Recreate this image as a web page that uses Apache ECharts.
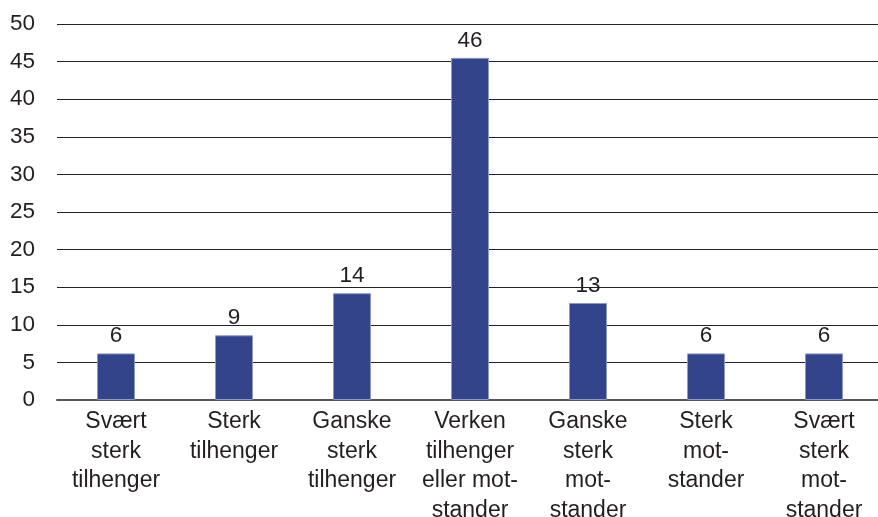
<!DOCTYPE html>
<html>
<head>
<meta charset="utf-8">
<script src="https://cdn.jsdelivr.net/npm/echarts@6/dist/echarts.min.js"></script>
<style>
  html, body { margin: 0; padding: 0; background: #fff; }
  #chart { width: 878px; height: 517px; }
</style>
</head>
<body>
<div id="chart"></div>
<script>
// kategorier og verdier (prosent)
const categories = [
  'Svært\nsterk\ntilhenger',
  'Sterk\ntilhenger',
  'Ganske\nsterk\ntilhenger',
  'Verken\ntilhenger\neller mot-\nstander',
  'Ganske\nsterk\nmot-\nstander',
  'Sterk\nmot-\nstander',
  'Svært\nsterk\nmot-\nstander'
];
const values = [6.2, 8.6, 14.2, 45.5, 12.9, 6.2, 6.2];
const valueLabels = [6, 9, 14, 46, 13, 6, 6];
const yTicks = { min: 0, max: 50, interval: 5 };

const chart = echarts.init(document.getElementById('chart'));
chart.setOption({
  animation: false,
  textStyle: { fontFamily: 'Liberation Sans, Arial, sans-serif' },
  grid: { left: 57, right: -5, top: 24, bottom: 117, containLabel: false, outerBoundsMode: 'none' },
  xAxis: {
    type: 'category',
    data: categories,
    axisLine: { lineStyle: { color: '#555', width: 2 } },
    axisTick: { show: false },
    axisLabel: {
      interval: 0,
      color: '#231f20',
      fontSize: 23,
      lineHeight: 29.5,
      margin: 7,
      align: 'center'
    }
  },
  yAxis: {
    type: 'value',
    min: yTicks.min,
    max: yTicks.max,
    interval: yTicks.interval,
    axisLine: { show: false },
    axisTick: { show: false },
    axisLabel: { color: '#231f20', fontSize: 22.5, margin: 22 },
    splitLine: { lineStyle: { color: '#222', width: 1 } }
  },
  series: [{
    type: 'bar',
    data: values,
    barWidth: 38,
    itemStyle: { color: '#34448a', borderColor: '#8f99c8', borderWidth: 1 },
    label: {
      show: true,
      position: 'top',
      distance: 6,
      color: '#231f20',
      fontSize: 22.5,
      formatter: p => valueLabels[p.dataIndex]
    }
  }]
});
</script>
</body>
</html>
